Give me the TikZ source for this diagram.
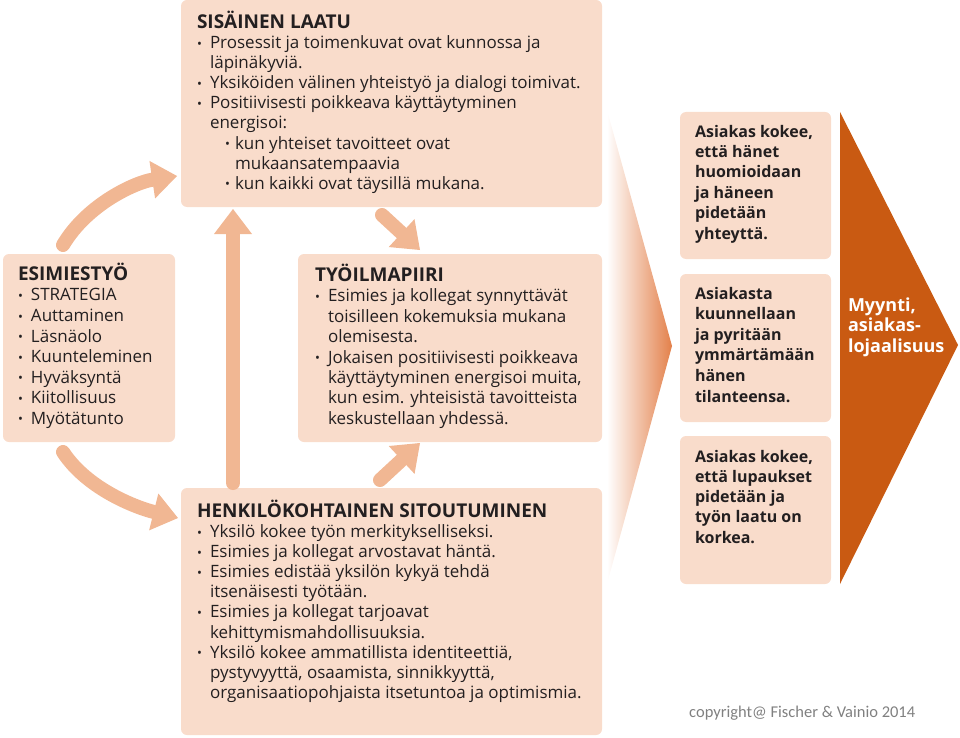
\documentclass[tikz,border=0pt]{standalone}
\usepackage{fontspec}
\setmainfont{Open Sans}
\newfontfamily\copyfont{Carlito}
\usetikzlibrary{arrows.meta,calc}
\definecolor{boxfill}{HTML}{F9DCCB}
\definecolor{arr}{HTML}{F1B793}
\definecolor{deep}{HTML}{C95A12}
\definecolor{grad}{HTML}{E3804A}
\definecolor{ink}{HTML}{231F20}
\newcommand\bodyfont{\fontsize{17pt}{20pt}\selectfont}
\newcommand\headfont{\fontsize{19pt}{20pt}\selectfont\bfseries}
\newcommand\blk[2]{\vbox{\baselineskip=#1pt\lineskiplimit=-50pt\lineskip=0pt #2}}
\newcommand\lnH[1]{\hbox{\vrule height 17pt depth 0pt width 0pt{\headfont #1}}}
\newcommand\lnT[1]{\hbox{\vrule height 17pt depth 0pt width 0pt #1}}
\newcommand\lnB[1]{\hbox{\vrule height 17pt depth 0pt width 0pt\makebox[13pt][l]{\raisebox{0.5pt}{\fontsize{13pt}{13pt}\selectfont •}}#1}}
\newcommand\lnC[1]{\hbox{\vrule height 17pt depth 0pt width 0pt\hspace*{13pt}#1}}
\newcommand\lnS[1]{\hbox{\vrule height 17pt depth 0pt width 0pt\hspace*{28pt}\makebox[10pt][l]{\raisebox{0.5pt}{\fontsize{13pt}{13pt}\selectfont •}}#1}}
\newcommand\lnSC[1]{\hbox{\vrule height 17pt depth 0pt width 0pt\hspace*{38pt}#1}}
\begin{document}
\begin{tikzpicture}[x=1pt,y=-1pt,
  box/.style={fill=boxfill, rounded corners=6pt, draw=none, anchor=north west, inner sep=0pt, outer sep=0pt},
  txt/.style={anchor=north west, inner sep=0pt, outer sep=0pt, text=ink, font=\bodyfont},
  rtxt/.style={txt, font=\fontsize{16pt}{20pt}\selectfont\bfseries},
  flow/.style={draw=arr, line width=14pt, line cap=round, -{Triangle[length=25pt,width=38pt,line width=0pt]}}]
\useasboundingbox (0,0) rectangle (960,738);
% boxes
\node[box, minimum width=421pt, minimum height=207pt] (sis) at (181,0) {};
\node[box, minimum width=172pt, minimum height=188pt] (esim) at (3,254) {};
\node[box, minimum width=304pt, minimum height=188pt] (tyo) at (298,254) {};
\node[box, minimum width=421pt, minimum height=247pt] (henk) at (181,488) {};
\node[box, minimum width=151pt, minimum height=147pt] (r1) at (680,112) {};
\node[box, minimum width=151pt, minimum height=148pt] (r2) at (680,274) {};
\node[box, minimum width=151pt, minimum height=148pt] (r3) at (680,436) {};
% chevrons
\shade[left color=white, right color=grad] (607,110) -- (672,346) -- (607,584) -- cycle;
\fill[deep] (840,112) -- (958,345) -- (840,584) -- cycle;
% texts
\node[txt] (sistxt) at (197,11) {\blk{20.1}{%
\lnH{SISÄINEN LAATU}
\lnB{Prosessit ja toimenkuvat ovat kunnossa ja}
\lnC{läpinäkyviä.}
\lnB{Yksiköiden välinen yhteistyö ja dialogi toimivat.}
\lnB{Positiivisesti poikkeava käyttäytyminen}
\lnC{energisoi:}
\lnS{kun yhteiset tavoitteet ovat}
\lnSC{mukaansatempaavia}
\lnS{kun kaikki ovat täysillä mukana.}}};
\node[txt] (esimtxt) at (18,263) {\blk{20.55}{%
\lnH{ESIMIESTYÖ}
\lnB{STRATEGIA}
\lnB{Auttaminen}
\lnB{Läsnäolo}
\lnB{Kuunteleminen}
\lnB{Hyväksyntä}
\lnB{Kiitollisuus}
\lnB{Myötätunto}}};
\node[txt] (tyotxt) at (315,264) {\blk{20.4}{%
\lnH{TYÖILMAPIIRI}
\lnB{Esimies ja kollegat synnyttävät}
\lnC{toisilleen kokemuksia mukana}
\lnC{olemisesta.}
\lnB{Jokaisen positiivisesti poikkeava}
\lnC{käyttäytyminen energisoi muita,}
\lnC{kun esim. yhteisistä tavoitteista}
\lnC{keskustellaan yhdessä.}}};
\node[txt] (henktxt) at (197,500) {\blk{20.1}{%
\lnH{HENKILÖKOHTAINEN SITOUTUMINEN}
\lnB{Yksilö kokee työn merkitykselliseksi.}
\lnB{Esimies ja kollegat arvostavat häntä.}
\lnB{Esimies edistää yksilön kykyä tehdä}
\lnC{itsenäisesti työtään.}
\lnB{Esimies ja kollegat tarjoavat}
\lnC{kehittymismahdollisuuksia.}
\lnB{Yksilö kokee ammatillista identiteettiä,}
\lnC{pystyvyyttä, osaamista, sinnikkyyttä,}
\lnC{organisaatiopohjaista itsetuntoa ja optimismia.}}};
\node[rtxt] (r1txt) at (695,120) {\blk{20.4}{%
\lnT{Asiakas kokee,}
\lnT{että hänet}
\lnT{huomioidaan}
\lnT{ja häneen}
\lnT{pidetään}
\lnT{yhteyttä.}}};
\node[rtxt] (r2txt) at (695,282) {\blk{20.6}{%
\lnT{Asiakasta}
\lnT{kuunnellaan}
\lnT{ja pyritään}
\lnT{ymmärtämään}
\lnT{hänen}
\lnT{tilanteensa.}}};
\node[rtxt] (r3txt) at (695,445) {\blk{20.25}{%
\lnT{Asiakas kokee,}
\lnT{että lupaukset}
\lnT{pidetään ja}
\lnT{työn laatu on}
\lnT{korkea.}}};
\node[txt, text=white, font=\fontsize{18pt}{20pt}\selectfont\bfseries] (myy) at (848,294) {\blk{20.5}{%
\lnT{Myynti,}
\lnT{asiakas-}
\lnT{lojaalisuus}}};
\node[anchor=base west, inner sep=0pt, text=black!50, font=\copyfont\fontsize{16.5pt}{18pt}\selectfont] (copy) at (689,717) {copyright@ Fischer \& Vainio 2014};
% arrows
\draw[flow] ($(esim.north west)+(60,-9)$) .. controls +(25,-42) and +(-40,6) .. ($(sis.south west)+(-4,-31)$);
\draw[flow] ($(esim.south west)+(60,10)$) .. controls +(25,38) and +(-40,-10) .. ($(henk.north west)+(-3,30)$);
\draw[flow] ($(henk.north west)+(52,-5)$) -- ($(sis.south west)+(52,2)$);
\draw[flow] ($(sis.south west)+(201,8)$) -- ($(tyo.north west)+(122,-4)$);
\draw[flow] ($(henk.north west)+(199,-8)$) -- ($(tyo.south west)+(122,1)$);
\end{tikzpicture}
\end{document}
